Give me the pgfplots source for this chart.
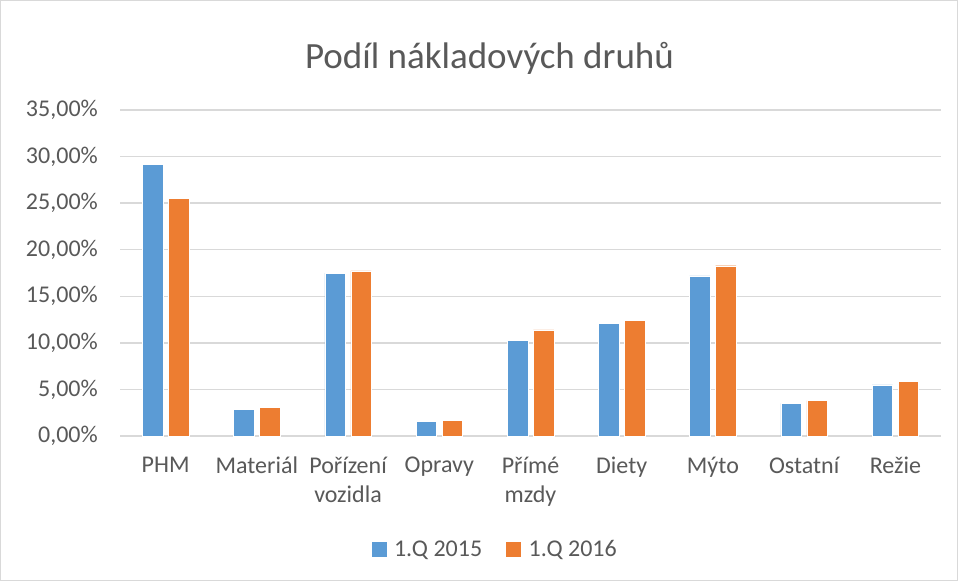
\documentclass[border=0pt]{standalone}
\usepackage{pgfplots}
\pgfplotsset{compat=1.18}
\usepackage{fontspec}
\setmainfont{Carlito}
\definecolor{sblue}{HTML}{5B9BD5}
\definecolor{sorange}{HTML}{ED7D31}
\definecolor{gridc}{HTML}{D9D9D9}
\definecolor{txt}{HTML}{595959}
\begin{document}
\begin{tikzpicture}[x=1pt,y=1pt]
\draw[gridc, line width=1pt, fill=white] (0.5,0.5) rectangle (957.5,580.5);
\useasboundingbox (0,0) rectangle (958,581);
\node[anchor=base, text=txt, font=\fontsize{37}{44}\selectfont] at (489.5,512) {Podíl nákladových druhů};
\begin{axis}[
  at={(120pt,145pt)}, anchor=south west,
  scale only axis, width=821pt, height=326pt,
  ymin=0, ymax=35, xmin=-0.5, xmax=8.5,
  ytick={0,5,...,35},
  xtick={0,...,8},
  xticklabels={PHM, Materiál, {Pořízení\\vozidla}, Opravy, {Přímé\\mzdy}, Diety, Mýto, Ostatní, Režie},
  major tick length=0pt,
  axis line style={draw=none},
  ymajorgrids, grid style={gridc, line width=1.3pt},
  /pgf/number format/assume math mode=true,
  yticklabel={\pgfmathprintnumber[fixed, fixed zerofill, precision=2, use comma]{\tick}\%},
  yticklabel style={anchor=east, inner sep=0pt, xshift=-22pt, text=txt, font=\fontsize{24}{29}\selectfont},
  xticklabel style={anchor=north, inner sep=0pt, yshift=-21pt, align=center, text=txt, font=\fontsize{24}{29}\selectfont},
  ybar=5.5pt, bar width=20.5pt,
  legend columns=2,
  legend style={at={(0.457,-0.347)}, anchor=center, draw=none, fill=none, text=txt,
    font=\fontsize{24}{29}\selectfont,
    /tikz/every even column/.append style={column sep=22pt}},
]
\addplot[fill=sblue, draw=white, line width=0.4pt,
  legend image code/.code={\fill[sblue] (0pt,-7pt) rectangle (14pt,7pt); \path (20pt,0pt);}]
  coordinates {(0,29.2) (1,2.88) (2,17.48) (3,1.56) (4,10.25) (5,12.12) (6,17.18) (7,3.5) (8,5.5)};
\addlegendentry{1.Q 2015}
\addplot[fill=sorange, draw=white, line width=0.4pt,
  legend image code/.code={\fill[sorange] (0pt,-7pt) rectangle (14pt,7pt); \path (20pt,0pt);}]
  coordinates {(0,25.5) (1,3.07) (2,17.72) (3,1.7) (4,11.4) (5,12.42) (6,18.28) (7,3.8) (8,5.88)};
\addlegendentry{1.Q 2016}
\end{axis}
\end{tikzpicture}
\end{document}
